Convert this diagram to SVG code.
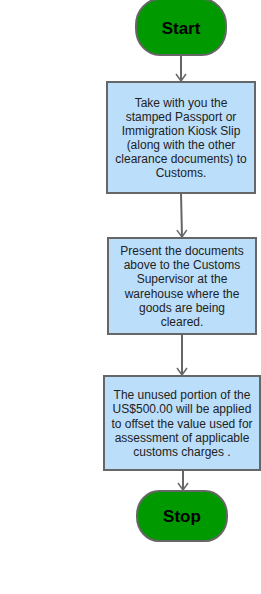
<svg xmlns="http://www.w3.org/2000/svg" width="261" height="594" viewBox="0 0 261 594">
<style>
.term{fill:#009900;stroke:#666666;stroke-width:2}
.box{fill:#bbdefb;stroke:#666666;stroke-width:2}
.tt{font-family:"Liberation Sans",Arial,sans-serif;font-size:17px;font-weight:bold;fill:#000;text-anchor:middle}
.bt{font-family:"Liberation Sans",Arial,sans-serif;font-size:12px;fill:#222;text-anchor:middle}
.conn{stroke:#666666;stroke-width:2;fill:none}
</style>
<defs>
<marker id="arr" markerWidth="12" markerHeight="12" refX="10" refY="6" orient="auto" markerUnits="userSpaceOnUse">
<path d="M3,1 L10,6 L3,11" fill="none" stroke="#666666" stroke-width="1.5"/>
</marker>
</defs>
<rect width="261" height="594" fill="#ffffff"/>
<g id="connectors">
<line class="conn" x1="181" y1="56" x2="181" y2="81" marker-end="url(#arr)"/>
<line class="conn" x1="181" y1="193" x2="182" y2="237" marker-end="url(#arr)"/>
<line class="conn" x1="182" y1="334" x2="182" y2="375" marker-end="url(#arr)"/>
<line class="conn" x1="183" y1="470" x2="183" y2="490" marker-end="url(#arr)"/>
</g>
<g id="start">
<rect class="term" x="136" y="-1" width="90" height="56" rx="24" ry="26"/>
<text class="tt" x="181" y="33.5">Start</text>
</g>
<g id="step1">
<rect class="box" x="107" y="82" width="148" height="111"/>
<text class="bt" x="181" y="106.5">Take with you the</text>
<text class="bt" x="181" y="120.5">stamped Passport or</text>
<text class="bt" x="181" y="134.5">Immigration Kiosk Slip</text>
<text class="bt" x="181" y="148.5">(along with the other</text>
<text class="bt" x="181" y="162.5">clearance documents) to</text>
<text class="bt" x="181" y="176.5">Customs.</text>
</g>
<g id="step2">
<rect class="box" x="108" y="238" width="148" height="96"/>
<text class="bt" x="182" y="255">Present the documents</text>
<text class="bt" x="182" y="269.2">above to the Customs</text>
<text class="bt" x="182" y="283.4">Supervisor at the</text>
<text class="bt" x="182" y="297.6">warehouse where the</text>
<text class="bt" x="182" y="311.8">goods are being</text>
<text class="bt" x="182" y="326">cleared.</text>
</g>
<g id="step3">
<rect class="box" x="104" y="376" width="156" height="94"/>
<text class="bt" x="182" y="399.1">The unused portion of the</text>
<text class="bt" x="182" y="413.4">US$500.00 will be applied</text>
<text class="bt" x="182" y="427.7">to offset the value used for</text>
<text class="bt" x="182" y="442">assessment of applicable</text>
<text class="bt" x="182" y="456.3">customs charges .</text>
</g>
<g id="stop">
<rect class="term" x="137" y="491" width="90" height="50" rx="22" ry="24"/>
<text class="tt" x="182" y="521.5">Stop</text>
</g>
</svg>
